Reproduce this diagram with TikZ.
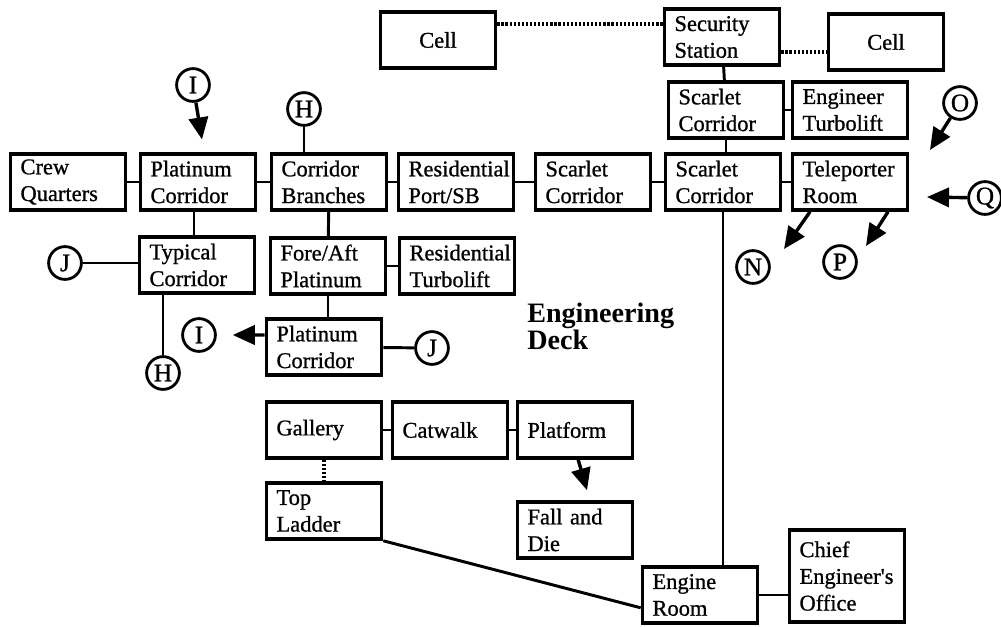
\documentclass[tikz,border=0pt]{standalone}
\usepackage{fontspec}
\setmainfont{Liberation Serif}
\newfontfamily\roomface{Liberation Serif}[RawFeature={embolden=0.9}]
\usetikzlibrary{arrows.meta}

\begin{document}
\begin{tikzpicture}[x=0.025cm, y=-0.025cm,
    room/.style={draw, line width=2.5pt, text width=2.375cm, inner xsep=0.25cm,
        minimum height=1.4cm, align=left, font=\roomface\fontsize{16}{19}\selectfont},
    cellroom/.style={room, align=center},
    link/.style={circle, draw, line width=2pt, minimum size=0.82cm, inner sep=0pt,
        font=\roomface\fontsize{18}{19}\selectfont},
    wire/.style={line width=2.1pt},
    dots/.style={line width=2.6pt, dash pattern=on 1.6pt off 1.3pt},
    arr/.style={line width=2.4pt, -{Triangle[length=0.55cm, width=0.48cm]}}]

    \useasboundingbox (0,0) rectangle (1001,626);

    % Security block
    \node[cellroom] (cellL) at (438, 40) {Cell};
    \node[room] (secst) at (722, 37) {Security\\Station};
    \node[cellroom] (cellR) at (886, 42) {Cell};
    \node[room] (scarA) at (726, 110) {Scarlet\\Corridor};
    \node[room] (engturbo) at (850, 110) {Engineer\\Turbolift};

    % Main corridor row
    \node[room] (crew) at (68, 182) {Crew\\Quarters};
    \node[room] (platA) at (198, 182) {Platinum\\Corridor};
    \node[room] (branch) at (329, 182) {Corridor\\Branches};
    \node[room] (resport) at (456, 182) {Residential\\Port/SB};
    \node[room] (scarB) at (593, 182) {Scarlet\\Corridor};
    \node[room] (scarC) at (723, 182) {Scarlet\\Corridor};
    \node[room] (teleport) at (850, 182) {Teleporter\\Room};

    % Side corridors
    \node[room] (typical) at (197, 265) {Typical\\Corridor};
    \node[room] (foreaft) at (328, 266) {Fore/Aft\\Platinum};
    \node[room] (resturbo) at (457, 266) {Residential\\Turbolift};
    \node[room] (platB) at (324, 347) {Platinum\\Corridor};

    % Engineering deck
    \node[anchor=north west, inner sep=0pt, align=left,
        font=\fontsize{20}{17}\bfseries\selectfont] (deck) at (527, 303) {Engineering\\Deck};
    \node[room] (gallery) at (324, 430) {Gallery};
    \node[room] (catwalk) at (450, 430) {Catwalk};
    \node[room] (platform) at (575, 430) {Platform};
    \node[room] (topladder) at (324, 511) {Top\\Ladder};
    \node[room] (falldie) at (575, 530) {Fall and\\Die};
    \node[room] (engine) at (700, 595) {Engine\\Room};
    \node[room, minimum height=2.3cm] (chief) at (847, 576) {Chief\\Engineer's\\Office};

    % Off-page links
    \node[link] (linkIa) at (193, 85) {I};
    \node[link] (linkHa) at (304, 109) {H};
    \node[link] (linkJa) at (65, 263) {J};
    \node[link] (linkHb) at (163, 373) {H};
    \node[link] (linkIb) at (199, 335) {I};
    \node[link] (linkJb) at (432, 348) {J};
    \node[link] (linkO) at (960, 103) {O};
    \node[link] (linkQ) at (985, 198) {Q};
    \node[link] (linkN) at (753, 267) {N};
    \node[link] (linkP) at (840, 262) {P};
    \coordinate (otip) at (930, 150);
    \coordinate (qtip) at (927, 197);
    \coordinate (ntip) at (784, 249);
    \coordinate (ptip) at (866, 246);

    % Dotted passages
    \draw[dots] ([yshift=0.4cm]cellL.east) -- ([yshift=0.4cm]cellL.east -| secst.west);
    \draw[dots] ([yshift=-0.38cm]secst.east) -- ([yshift=-0.38cm]secst.east -| cellR.west);
    \draw[dots] (gallery.south) -- (topladder.north);

    % Corridors
    \draw[wire] (secst) -- (scarA);
    \draw[wire] (scarA) -- (engturbo);
    \draw[wire] (scarA.south) -- (scarA.south |- scarC.north);
    \draw[wire] (crew) -- (platA);
    \draw[wire] (platA) -- (branch);
    \draw[wire] (branch) -- (resport);
    \draw[wire] (resport) -- (scarB);
    \draw[wire] (scarB) -- (scarC);
    \draw[wire] (scarC) -- (teleport);
    \draw[wire] ([xshift=-0.1cm]platA.south) -- ([xshift=-0.1cm]platA.south |- typical.north);
    \draw[wire] (branch) -- (foreaft);
    \draw[wire] (foreaft) -- (resturbo);
    \draw[wire] (foreaft.south) -- (foreaft.south |- platB.north);
    \draw[wire] (linkHa) -- (linkHa |- branch.north);
    \draw[wire] (linkJa) -- (linkJa -| typical.west);
    \draw[wire] (typical.south -| linkHb) -- (linkHb);
    \draw[wire] (platB) -- (linkJb);
    \draw[wire] (gallery) -- (catwalk);
    \draw[wire] (catwalk) -- (platform);
    \draw[wire] (topladder.south east) -- ([yshift=-0.32cm]engine.west);
    \draw[wire] (scarC.south) -- (scarC.south |- engine.north);
    \draw[wire] (engine.east) -- (engine.east -| chief.west);

    % One-way exits
    \draw[arr] (linkIa) -- ([xshift=0.1cm, yshift=0.32cm]platA.north);
    \draw[arr] ([yshift=0.3cm]platB.west) -- ([xshift=0.4cm]linkIb.east);
    \draw[arr] ([xshift=0.08cm]platform.south) -- ([xshift=0.3cm, yshift=0.25cm]falldie.north);
    \draw[arr] (linkO) -- (otip);
    \draw[arr] (linkQ) -- (qtip);
    \draw[arr] ([xshift=-1cm]teleport.south) -- (ntip);
    \draw[arr] ([xshift=0.95cm]teleport.south) -- (ptip);
\end{tikzpicture}
\end{document}
